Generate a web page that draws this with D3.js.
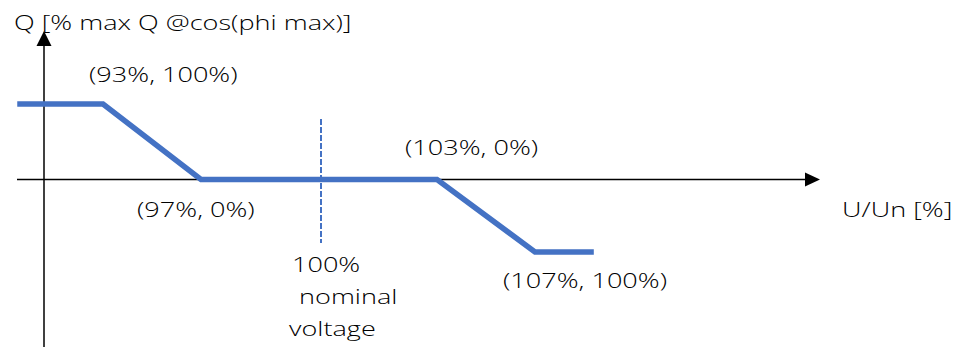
<!DOCTYPE html>
<html><head><meta charset="utf-8">
<script src="https://cdn.jsdelivr.net/npm/d3@7"></script>
<style>
html,body{margin:0;padding:0;background:#fff;}
svg{display:block;}
text{font-family:"Open Sans",sans-serif;fill:#000;font-weight:300;}
</style></head>
<body><svg id="c" width="957" height="347"></svg>
<script>
// Data (schematic Q(U) characteristic)
const uValues = [89.5, 93, 97, 103, 107, 109.4];   // U/Un [%]
const qValues = [100, 100, 0, 0, -100, -100];       // Q [% max Q], negative = absorbing
const pointLabels = ["(93%, 100%)", "(97%, 0%)", "(103%, 0%)", "(107%, 100%)"];
const labelPoints = [1, 2, 3, 4];                   // indices into uValues/qValues
const nominalU = 100;
const nominalLines = ["100%", "\u00a0nominal", "voltage"];
const xTitle = "U/Un [%]";
const yTitle = "Q [% max Q @cos(phi max)]";

const svg = d3.select("#c");
const W = 957, H = 347;
const SX = 1.355; // horizontal stretch of text as in the reference

// schematic (piecewise) scales
const x = d3.scaleLinear().domain([93, 97, 103, 107]).range([103, 201, 437, 535]);
const y = d3.scaleLinear().domain([-100, 0, 100]).range([252, 179.5, 104]);

const axisX0 = 17, axisXTip = 820, axisY = y(0);
const axisYx = 44, axisYTop = 31, axisYBottom = H;

// axes
svg.append("line").attr("x1", axisX0).attr("x2", axisXTip - 14)
  .attr("y1", axisY).attr("y2", axisY).attr("stroke", "#000").attr("stroke-width", 1.5);
svg.append("path").attr("d", `M${axisXTip},${axisY} L${axisXTip-15},${axisY-7} L${axisXTip-15},${axisY+7}Z`).attr("fill", "#000");
svg.append("line").attr("x1", axisYx).attr("x2", axisYx)
  .attr("y1", axisYBottom).attr("y2", axisYTop + 14).attr("stroke", "#000").attr("stroke-width", 1.5);
svg.append("path").attr("d", `M${axisYx},${axisYTop} L${axisYx-7.5},${axisYTop+15} L${axisYx+7.5},${axisYTop+15}Z`).attr("fill", "#000");

// nominal dashed line
svg.append("line").attr("x1", x(nominalU)+2).attr("x2", x(nominalU)+2)
  .attr("y1", 119).attr("y2", 243)
  .attr("stroke", "#4472C4").attr("stroke-width", 2).attr("stroke-dasharray", "6,2");

// characteristic line
const pts = uValues.map((u, i) => [x(u), y(qValues[i])]);
svg.append("path").attr("d", d3.line()(pts)).attr("fill", "none")
  .attr("stroke", "#4472C4").attr("stroke-width", 5.5).attr("stroke-linejoin", "miter");

function label(txt, tx, ty) {
  svg.append("text").attr("transform", `translate(${tx},${ty}) scale(${SX},1)`)
    .attr("font-size", 20).text(txt);
}

// point labels, offsets relative to points
const offs = [[-14, -22], [-64, 37.5], [-32, -25], [-32, 36]];
labelPoints.forEach((pi, k) => {
  label(pointLabels[k], x(uValues[pi]) + offs[k][0], y(qValues[pi]) + offs[k][1]);
});

label(yTitle, 14, 29.5);
label(xTitle, 842, 217);
nominalLines.forEach((t, i) => label(t, x(nominalU) + (i === 2 ? -30 : -27), 272 + i * 32));
</script></body></html>
